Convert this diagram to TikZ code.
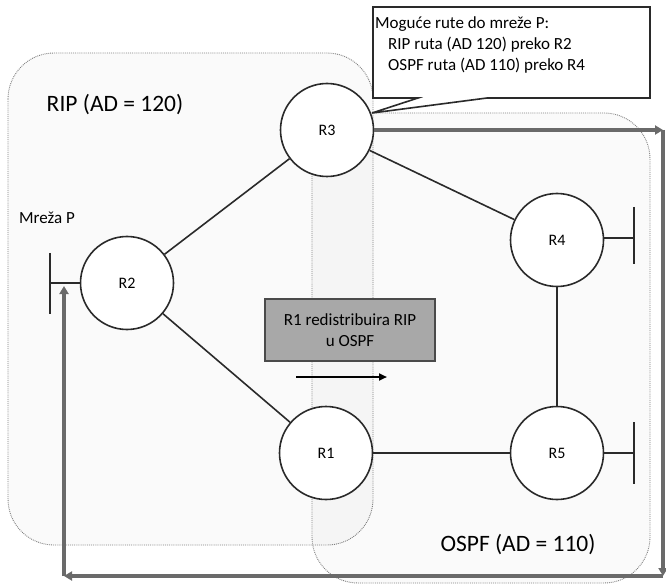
\documentclass[tikz,border=0pt]{standalone}
\usepackage{fontspec}
\setmainfont{Carlito}
\usetikzlibrary{arrows.meta}
\definecolor{ln}{HTML}{2A2A2A}
\definecolor{ar}{HTML}{6A6A6A}
\definecolor{bx}{HTML}{A8A8A8}
\begin{document}
\begin{tikzpicture}[x=1pt,y=-1pt,
  router/.style={circle,draw=ln,line width=1.6pt,fill=white,minimum size=93pt,inner sep=0pt,font=\fontsize{16}{19}\selectfont},
  link/.style={draw=ln,line width=1.6pt},
  region/.style={draw=gray,densely dotted,line width=0.9pt,rounded corners=46pt,fill=black,fill opacity=0.018},
  bigarrow/.style={draw=ar,line width=3.2pt,-{Triangle[length=8pt,width=9pt]}},
  small/.style={font=\fontsize{17}{21}\selectfont},
  big/.style={font=\fontsize{23.5}{28}\selectfont},
]
\useasboundingbox (0,0) rectangle (666,585);
% regions
\draw[region] (8,53) rectangle (373,545);
\draw[region] (312,113) rectangle (650,583);
% region labels
\node[big] (riplbl) at (115,105) {RIP (AD = 120)};
\node[big] (ospflbl) at (518,545) {OSPF (AD = 110)};
\node[small] (mreza) at (47,218) {Mreža P};
% routers
\node[router] (R3) at (327,130) {R3};
\node[router] (R2) at (127,283) {R2};
\node[router] (R1) at (326,453) {R1};
\node[router] (R4) at (557,240) {R4};
\node[router] (R5) at (557,453) {R5};
% links
\draw[link] (R2) -- (R3);
\draw[link] (R2) -- (R1);
\draw[link] (R3) -- (R4);
\draw[link] (R1) -- (R5);
\draw[link] (R4) -- (R5);
% stub networks
\coordinate (s2) at (50,283);
\coordinate (s2a) at (50,253);
\coordinate (s2b) at (50,314);
\draw[link] (R2.west) -- (s2);
\draw[link] (s2a) -- (s2b);
\coordinate (s4) at (634,238);
\coordinate (s4a) at (634,207);
\coordinate (s4b) at (634,264);
\draw[link] (R4.east |- s4) -- (s4);
\draw[link] (s4a) -- (s4b);
\coordinate (s5) at (634,453);
\coordinate (s5a) at (634,422);
\coordinate (s5b) at (634,484);
\draw[link] (R5.east) -- (s5);
\draw[link] (s5a) -- (s5b);
% callout
\draw[ln,line width=1.6pt,fill=white] (373,7) -- (650,7) -- (650,98) -- (487,98) -- (372,113) -- (418,98) -- (373,98) -- cycle;
\node[small,anchor=base west,inner sep=0pt] (c1) at (375,28.5) {Moguće rute do mreže P:};
\node[small,anchor=base west,inner sep=0pt] (c2) at (388,49.5) {RIP ruta (AD 120) preko R2};
\node[small,anchor=base west,inner sep=0pt] (c3) at (388,70.5) {OSPF ruta (AD 110) preko R4};
% redistribution box
\node[small,draw=ln!85,line width=1.6pt,fill=bx,minimum width=170pt,minimum height=62pt,align=center,inner sep=0pt] (redist) at (350,330) {R1 redistribuira RIP\\u OSPF};
\coordinate (b1) at (296,377);
\coordinate (b2) at (387,377);
\draw[line width=2pt,-{Triangle[length=8pt,width=7pt]}] (b1) -- (b2);
% route arrows
\coordinate (g1) at (663,130);
\coordinate (g2) at (663,576);
\coordinate (g3) at (64,576);
\coordinate (g4) at (64,286);
\draw[bigarrow] (R3.east) -- (g1);
\draw[bigarrow] (g1) -- (g2);
\draw[bigarrow] (g2) -- (g3);
\draw[bigarrow] (g3) -- (g4);
\end{tikzpicture}
\end{document}
